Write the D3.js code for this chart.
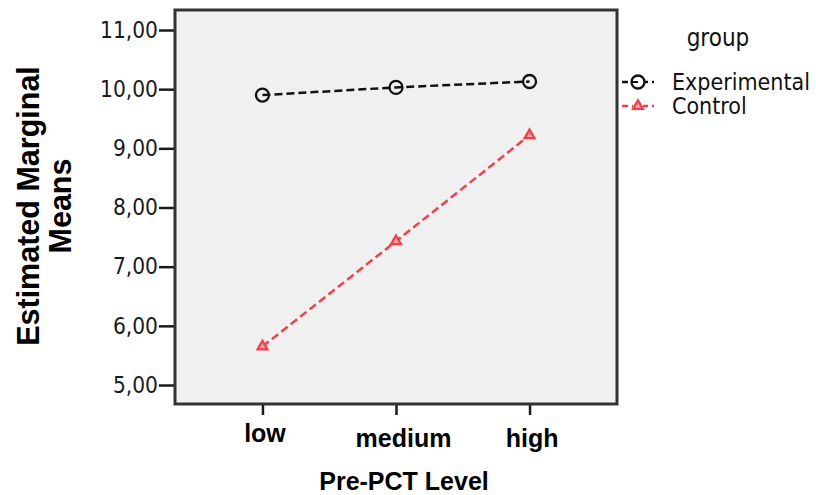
<!DOCTYPE html>
<html><head><meta charset="utf-8">
<script src="https://cdn.jsdelivr.net/npm/d3@7"></script>
<style>body{margin:0;background:#fff;}svg{display:block;}</style>
</head><body>
<svg id="chart" width="816" height="495"></svg>
<script>
const levels = ["low", "medium", "high"];
const experimental = [9.90, 10.03, 10.13];
const control = [5.65, 7.43, 9.22];
const yTicks = [5, 6, 7, 8, 9, 10, 11];
const seriesNames = ["Experimental", "Control"];

const svg = d3.select("#chart");
const L = 175, R = 617, T = 10, B = 404;
const normalFont = "'DejaVu Sans Condensed', 'DejaVu Sans', sans-serif";
const boldFont = "'Liberation Sans', Arial, sans-serif";

const x = d3.scalePoint().domain(levels).range([L, R]).padding(0.655);
const y = d3.scaleLinear().domain([4.679, 11.338]).range([B, T]);

// plot background
svg.append("rect").attr("x", L).attr("y", T).attr("width", R - L).attr("height", B - T)
  .attr("fill", "#f0f0f0");

// axes
const fmt = d => d3.format(".2f")(d).replace(".", ",");
const yAxis = svg.append("g").attr("transform", `translate(${L},0)`)
  .call(d3.axisLeft(y).tickValues(yTicks).tickFormat(fmt).tickSize(16).tickPadding(1));
yAxis.select(".domain").remove();
yAxis.selectAll(".tick line").attr("stroke", "#1a1a1a").attr("stroke-width", 2.5);
yAxis.selectAll(".tick text").attr("font-family", normalFont).attr("font-size", 22.5).attr("fill", "#1a1a1a");

const xAxis = svg.append("g").attr("transform", `translate(0,${B})`)
  .call(d3.axisBottom(x).tickSize(11).tickPadding(0));
xAxis.select(".domain").remove();
xAxis.selectAll(".tick line").attr("stroke", "#1a1a1a").attr("stroke-width", 2.5);
xAxis.selectAll(".tick text").attr("font-family", boldFont).attr("font-weight", "bold")
  .attr("font-size", 25).attr("fill", "#000").attr("dy", null)
  .attr("y", (d, i) => i === 0 ? 38 : 43)
  .attr("dx", (d, i) => i === 1 ? 7 : 2);

// frame
svg.append("rect").attr("x", L).attr("y", T).attr("width", R - L).attr("height", B - T)
  .attr("fill", "none").attr("stroke", "#333").attr("stroke-width", 3);

// lines
const line = d3.line().x((d, i) => x(levels[i])).y(d => y(d));
const colors = ["#111", "#f0404e"];
[experimental, control].forEach((s, k) => {
  svg.append("path").datum(s).attr("d", line).attr("fill", "none")
    .attr("stroke", colors[k]).attr("stroke-width", 2.5).attr("stroke-dasharray", "8,4");
});
// markers
svg.append("g").selectAll("circle").data(experimental).join("circle")
  .attr("cx", (d, i) => x(levels[i])).attr("cy", d => y(d)).attr("r", 6.5)
  .attr("fill", "none").attr("stroke", "#111").attr("stroke-width", 2.3);
const tri = d3.symbol().type(d3.symbolTriangle).size(42);
svg.append("g").selectAll("path").data(control).join("path")
  .attr("d", tri).attr("transform", (d, i) => `translate(${x(levels[i])},${y(d)})`)
  .attr("fill", "#f7a0a6").attr("stroke", colors[1]).attr("stroke-width", 2.3);

// y title
const yt = svg.append("text").attr("transform", "translate(39,206) rotate(-90)")
  .attr("font-family", boldFont).attr("font-weight", "bold").attr("font-size", 30.5)
  .attr("text-anchor", "middle").attr("fill", "#000");
yt.append("tspan").attr("x", 0).attr("y", 0).text("Estimated Marginal");
yt.append("tspan").attr("x", 0).attr("y", 32).text("Means");

// x title
svg.append("text").attr("x", 404).attr("y", 490).attr("text-anchor", "middle")
  .attr("font-family", boldFont).attr("font-weight", "bold").attr("font-size", 25)
  .attr("fill", "#000").text("Pre-PCT Level");

// legend
svg.append("text").attr("x", 718).attr("y", 46).attr("text-anchor", "middle")
  .attr("font-family", normalFont).attr("font-size", 24).attr("fill", "#111").text("group");
const legY = [82, 106];
seriesNames.forEach((name, k) => {
  const g = svg.append("g").attr("transform", `translate(0,${legY[k]})`);
  g.append("line").attr("x1", 622).attr("x2", 654).attr("y1", 0).attr("y2", 0)
    .attr("stroke", colors[k]).attr("stroke-width", 2.5).attr("stroke-dasharray", "6,4");
  if (k === 0) {
    g.append("circle").attr("cx", 638).attr("cy", 0).attr("r", 6.5)
      .attr("fill", "#fff").attr("stroke", "#111").attr("stroke-width", 2.3);
    g.append("line").attr("x1", 632).attr("x2", 638).attr("y1", 0).attr("y2", 0)
      .attr("stroke", "#111").attr("stroke-width", 2);
  } else {
    g.append("rect").attr("x", 633).attr("y", -6).attr("width", 10).attr("height", 10).attr("fill", "#fff");
    g.append("path").attr("d", tri).attr("transform", "translate(638,0)")
      .attr("fill", "#f7a0a6").attr("stroke", colors[1]).attr("stroke-width", 2.3);
  }
  g.append("text").attr("x", 672).attr("y", 8).attr("font-family", normalFont)
    .attr("font-size", 23).attr("fill", "#111").text(name);
});
</script>
</body></html>
